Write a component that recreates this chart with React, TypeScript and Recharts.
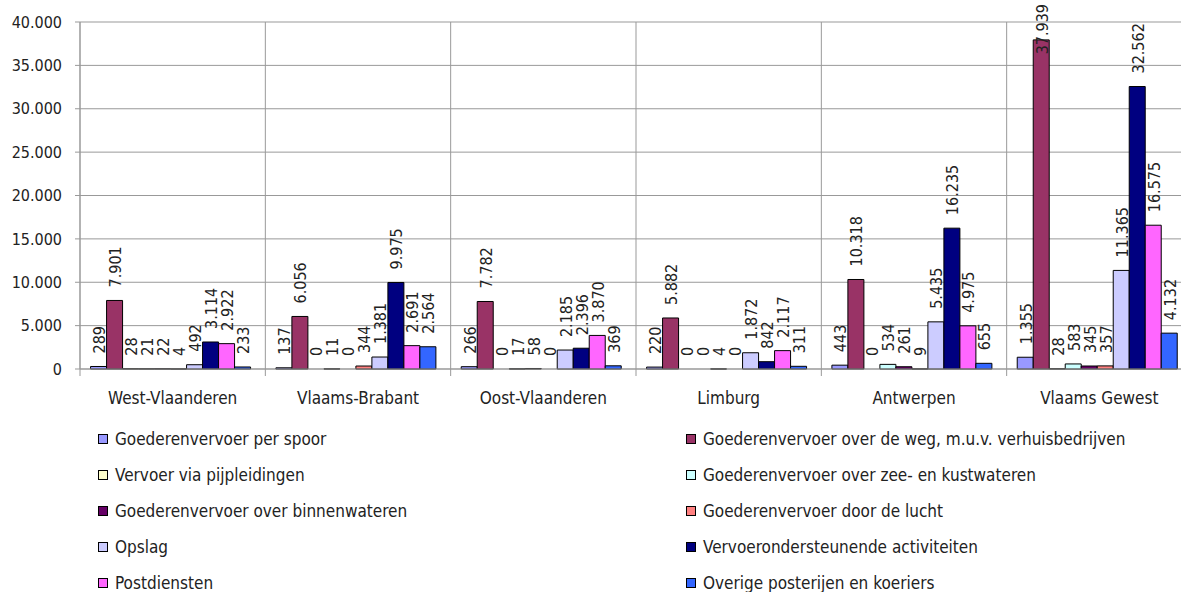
import React from 'react';
import {BarChart, Bar, XAxis, YAxis, CartesianGrid, LabelList, Cell} from 'recharts';

const categories = ['West-Vlaanderen', 'Vlaams-Brabant', 'Oost-Vlaanderen', 'Limburg', 'Antwerpen', 'Vlaams Gewest'];

const spoor = [289, 137, 266, 220, 443, 1355];
const weg = [7901, 6056, 7782, 5882, 10318, 37939];
const pijpleidingen = [28, 0, 0, 0, 0, 28];
const zee = [21, 11, 17, 0, 534, 583];
const binnenwateren = [22, 0, 58, 4, 261, 345];
const lucht = [4, 344, 0, 0, 9, 357];
const opslag = [492, 1381, 2185, 1872, 5435, 11365];
const vervoerondersteunend = [3114, 9975, 2396, 842, 16235, 32562];
const postdiensten = [2922, 2691, 3870, 2117, 4975, 16575];
const overige = [233, 2564, 369, 311, 655, 4132];

const yTicks = [0, 5000, 10000, 15000, 20000, 25000, 30000, 35000, 40000];

const series = [
    {key: 'spoor', name: 'Goederenvervoer per spoor', color: '#9999FF', values: spoor},
    {key: 'weg', name: 'Goederenvervoer over de weg, m.u.v. verhuisbedrijven', color: '#993366', values: weg},
    {key: 'pijp', name: 'Vervoer via pijpleidingen', color: '#FFFFCC', values: pijpleidingen},
    {key: 'zee', name: 'Goederenvervoer over zee- en kustwateren', color: '#CCFFFF', values: zee},
    {key: 'binnen', name: 'Goederenvervoer over binnenwateren', color: '#660066', values: binnenwateren},
    {key: 'lucht', name: 'Goederenvervoer door de lucht', color: '#FF8080', values: lucht},
    {key: 'opslag', name: 'Opslag', color: '#CCCCFF', values: opslag},
    {key: 'vervoer', name: 'Vervoerondersteunende activiteiten', color: '#000080', values: vervoerondersteunend},
    {key: 'post', name: 'Postdiensten', color: '#FF66FF', values: postdiensten},
    {key: 'overige', name: 'Overige posterijen en koeriers', color: '#3366FF', values: overige},
];

const data = categories.map((name, i) => {
    const row: any = {name};
    series.forEach(s => { row[s.key] = s.values[i]; });
    return row;
});

const FONT = "'DejaVu Sans Condensed', 'DejaVu Sans', sans-serif";
const TEXT = '#222';
const GRID = '#999';

const CHART_W = 1200;
const CHART_H = 592;
const MARGIN = {top: 22, right: 8, left: 0, bottom: 183};
const Y_W = 80;
const PLOT_W = CHART_W - MARGIN.left - MARGIN.right - Y_W;
const BAND = PLOT_W / categories.length;

const fmt = (v: number) => String(v).replace(/\B(?=(\d{3})+(?!\d))/g, '.');

// keep zero bars in the label list (a hairline, drawn without stroke)
const zeroPoint = (v: any) => (Number(v) === 0 ? 0.01 : 0);

const ValueLabel = (props: any) => {
    const {x, y, width, value} = props;
    if (value === undefined || value === null) return null;
    const text = fmt(Number(value));
    const len = text.replace(/\./g, '').length * 9.15 + (text.split('.').length - 1) * 4.6;
    let base = Number(y) - 13;
    if (base - len < 4) base = 4 + len;
    const cx = Number(x) + Number(width) / 2 + 1;
    return (
        <text
            transform={`translate(${cx},${base}) rotate(-90)`}
            textAnchor="start"
            dominantBaseline="central"
            fontSize={16}
            fontFamily={FONT}
            fill={TEXT}
        >
            {text}
        </text>
    );
};

const CategoryTick = (props: any) => {
    const {x, y, payload, index} = props;
    return (
        <g>
            <line x1={x - BAND / 2} x2={x - BAND / 2} y1={y} y2={y + 7} stroke={GRID} />
            {index === categories.length - 1 && (
                <line x1={x + BAND / 2} x2={x + BAND / 2} y1={y} y2={y + 7} stroke={GRID} />
            )}
            <text x={x} y={y + 29} textAnchor="middle" dominantBaseline="central" fontSize={17} fontFamily={FONT} fill={TEXT}>
                {payload.value}
            </text>
        </g>
    );
};

const legendLeft = series.filter((_, i) => i % 2 === 0);
const legendRight = series.filter((_, i) => i % 2 === 1);

const LegendColumn = ({items, left}: {items: typeof series, left: number}) => (
    <>
        {items.map((s, i) => (
            <div
                key={s.key}
                style={{
                    position: 'absolute', left, top: 439 + i * 36 - 11, height: 22,
                    display: 'flex', alignItems: 'center', whiteSpace: 'nowrap',
                    fontFamily: FONT, fontSize: 17, color: TEXT,
                }}
            >
                <span style={{width: 8, height: 8, background: s.color, border: '1px solid #000', marginRight: 7}} />
                {s.name}
            </div>
        ))}
    </>
);

const App = () => {
    return (
        <div style={{position: 'absolute', left: 0, top: 0, width: 1181, height: 592, overflow: 'hidden', background: '#fff'}}>
            <BarChart
                width={CHART_W}
                height={CHART_H}
                data={data}
                margin={MARGIN}
                barCategoryGap="5.7%"
                barGap={0}
            >
                <CartesianGrid
                    stroke={GRID}
                    verticalCoordinatesGenerator={({offset}: any) =>
                        categories.map((_, i) => offset.left + i * (offset.width / categories.length)).concat([offset.left + offset.width])
                    }
                />
                <XAxis
                    dataKey="name"
                    stroke={GRID}
                    tickLine={false}
                    tickSize={0}
                    tickMargin={0}
                    height={40}
                    interval={0}
                    tick={<CategoryTick />}
                />
                <YAxis
                    width={Y_W}
                    domain={[0, 40000]}
                    ticks={yTicks}
                    interval={0}
                    stroke={GRID}
                    tickSize={5}
                    tickMargin={13}
                    tickFormatter={fmt}
                    tick={{fill: TEXT, fontSize: 16, fontFamily: FONT}}
                />
                {series.map(s => (
                    <Bar
                        key={s.key}
                        dataKey={s.key}
                        name={s.name}
                        fill={s.color}
                        stroke="#000"
                        strokeWidth={1}
                        minPointSize={zeroPoint}
                        isAnimationActive={false}
                    >
                        {s.values.map((v, i) => (
                            <Cell key={i} stroke={v === 0 ? 'none' : '#000'} />
                        ))}
                        <LabelList dataKey={s.key} content={<ValueLabel />} />
                    </Bar>
                ))}
            </BarChart>
            <LegendColumn items={legendLeft} left={98} />
            <LegendColumn items={legendRight} left={686} />
        </div>
    );
};

export default App;
